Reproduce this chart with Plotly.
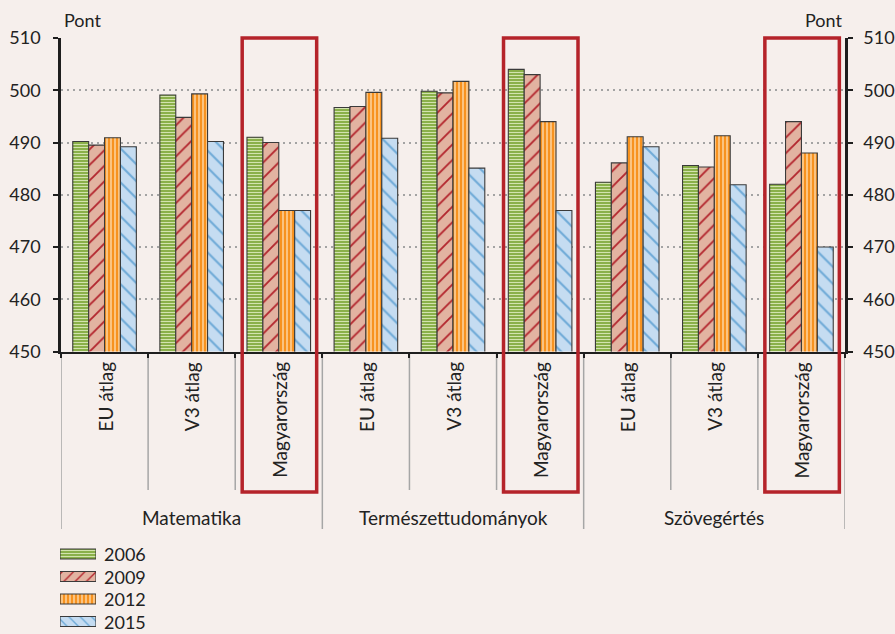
import plotly.graph_objects as go

# PISA average scores (points) by subject and country group
subjects = ["Matematika", "Természettudományok", "Szövegértés"]
groups = ["EU átlag", "V3 átlag", "Magyarország"]
years = ["2006", "2009", "2012", "2015"]

# Values ordered subject by subject: EU átlag, V3 átlag, Magyarország
score_2006 = [490.2, 499.1, 491, 496.7, 499.8, 504, 482.4, 485.6, 482]
score_2009 = [489.5, 494.8, 490, 496.9, 499.5, 503, 486.1, 485.3, 494]
score_2012 = [490.9, 499.3, 477, 499.6, 501.7, 494, 491.1, 491.3, 488]
score_2015 = [489.2, 490.2, 477, 490.8, 485.1, 477, 489.2, 481.9, 470]

y_ticks = [450, 460, 470, 480, 490, 500, 510]
highlight = "Magyarország"

W, H = 895, 634
BG = "#F6EFEC"
TXT = "#222222"
FONT = "Lato"

# Legend rows: first row centre and spacing, in pixels
LEG_TOP, LEG_STEP = 554, 22.5


def px_x(p):
    return p / W


def px_y(p):
    return 1 - p / H


styles = {
    "2006": dict(bg="#8AB04A", fg="#D2E3AE", shape="-", size=3, solidity=0.35),
    "2009": dict(bg="#E2B3A1", fg="#B3262E", shape="/", size=11, solidity=0.17),
    "2012": dict(bg="#F7921F", fg="#FDD9AA", shape="|", size=4, solidity=0.35),
    "2015": dict(bg="#C5DCF1", fg="#6EAAD7", shape="\\", size=12, solidity=0.17),
}
series = dict(zip(years, [score_2006, score_2009, score_2012, score_2015]))

labels = [g for _ in subjects for g in groups]
xpos = list(range(len(labels)))

fig = go.Figure()

for yr in years:
    st = styles[yr]
    fig.add_trace(go.Bar(
        x=xpos, y=series[yr], name=yr, showlegend=False,
        marker=dict(
            color=st["bg"],
            line=dict(color="#3A3A3A", width=1.1),
            pattern=dict(shape=st["shape"], size=st["size"], solidity=st["solidity"],
                         bgcolor=st["bg"], fgcolor=st["fg"], fillmode="replace"),
        ),
        hovertemplate="%{y}<extra>" + yr + "</extra>",
    ))

# Right-hand copy of the value axis
fig.add_trace(go.Scatter(x=[0], y=[450], yaxis="y2", mode="markers",
                         marker=dict(opacity=0), showlegend=False, hoverinfo="skip"))

# Legend swatches drawn as small horizontal bars on their own axes
for i, yr in enumerate(years):
    st = styles[yr]
    fig.add_trace(go.Bar(
        x=[1], y=[i], orientation="h", width=0.44, offset=-0.22,
        xaxis="x3", yaxis="y3", showlegend=False, hoverinfo="skip",
        marker=dict(
            color=st["bg"],
            line=dict(color="#3A3A3A", width=1.1),
            pattern=dict(shape=st["shape"], size=st["size"] if st["size"] < 6 else 8,
                         solidity=st["solidity"], bgcolor=st["bg"], fgcolor=st["fg"],
                         fillmode="replace"),
        ),
    ))

x_dom = [px_x(61), px_x(845)]
y_dom = [px_y(351.5), px_y(38)]
tick_font = dict(size=18, color=TXT)

fig.update_layout(
    width=W, height=H,
    margin=dict(l=0, r=0, t=0, b=0, autoexpand=False),
    paper_bgcolor=BG, plot_bgcolor=BG,
    font=dict(family=FONT, size=19, color=TXT),
    barmode="group", bargap=0.27, bargroupgap=0,
    showlegend=False,
    xaxis=dict(
        domain=x_dom, range=[-0.5, len(labels) - 0.5], showgrid=False, zeroline=False,
        automargin=False,
        showline=True, linecolor="#1E1E1E", linewidth=2,
        tickmode="array", tickvals=[k - 0.5 for k in range(len(labels) + 1)],
        showticklabels=False, ticks="outside", ticklen=4, tickwidth=2, tickcolor="#1E1E1E",
    ),
    yaxis=dict(
        domain=y_dom, range=[450, 510], tickmode="array", tickvals=y_ticks,
        automargin=False,
        showgrid=True, gridcolor="#A3A3A3", gridwidth=1.5, griddash="2px,4px",
        zeroline=False, showline=True, linecolor="#1E1E1E", linewidth=2.5,
        ticks="outside", ticklen=5, tickwidth=2, tickcolor="#1E1E1E",
        ticklabelstandoff=9, tickfont=tick_font,
    ),
    yaxis2=dict(
        overlaying="y", side="right", range=[450, 510], tickmode="array", tickvals=y_ticks,
        automargin=False,
        showgrid=False, zeroline=False, showline=True, linecolor="#1E1E1E", linewidth=2.5,
        ticks="outside", ticklen=5, tickwidth=2, tickcolor="#1E1E1E",
        ticklabelstandoff=7, tickfont=tick_font,
    ),
    xaxis3=dict(domain=[px_x(60), px_x(96)], range=[0, 1], visible=False, fixedrange=True,
                automargin=False),
    yaxis3=dict(domain=[px_y(634), px_y(540)], anchor="x3", automargin=False,
                range=[(634 - LEG_TOP) / LEG_STEP, (540 - LEG_TOP) / LEG_STEP],
                visible=False, fixedrange=True),
)

shapes = []
annotations = []

# Separators under the axis: short between groups, long between subjects
for k in range(len(labels) + 1):
    long_line = k % len(groups) == 0
    shapes.append(dict(type="line", xref="x", yref="paper",
                       x0=k - 0.5, x1=k - 0.5, y0=px_y(354), y1=px_y(529 if long_line else 490),
                       line=dict(color="#A6A6A6", width=1.5), layer="below"))

# Group labels, rotated
for i, lab in enumerate(labels):
    annotations.append(dict(x=i, y=px_y(360), xref="x", yref="paper", text=lab,
                            textangle=-90, showarrow=False, xanchor="center", yanchor="top",
                            font=dict(size=19, color=TXT)))

# Subject labels
for s, subj in enumerate(subjects):
    annotations.append(dict(x=s * len(groups) + 1, y=px_y(517), xref="x", yref="paper",
                            text=subj, showarrow=False, xanchor="center", yanchor="middle",
                            font=dict(size=19, color=TXT)))

# Frames around Hungary
for i, lab in enumerate(labels):
    if lab == highlight:
        shapes.append(dict(type="rect", xref="x", yref="paper",
                           x0=i - 0.42, x1=i + 0.435, y0=px_y(492), y1=px_y(38),
                           line=dict(color="#B5232A", width=3.5), fillcolor="rgba(0,0,0,0)",
                           layer="above"))

# Axis unit labels
annotations.append(dict(x=px_x(62), y=px_y(20), xref="paper", yref="paper", text="Pont",
                        showarrow=False, xanchor="left", yanchor="middle",
                        font=dict(size=18, color=TXT)))
annotations.append(dict(x=px_x(844), y=px_y(20), xref="paper", yref="paper", text="Pont",
                        showarrow=False, xanchor="right", yanchor="middle",
                        font=dict(size=18, color=TXT)))

# Legend texts
for i, yr in enumerate(years):
    annotations.append(dict(x=px_x(102), y=px_y(LEG_TOP + LEG_STEP * i), xref="paper",
                            yref="paper", text=yr, showarrow=False, xanchor="left",
                            yanchor="middle", font=dict(size=18, color=TXT)))

fig.update_layout(shapes=shapes, annotations=annotations)

fig.write_html("out.html")
